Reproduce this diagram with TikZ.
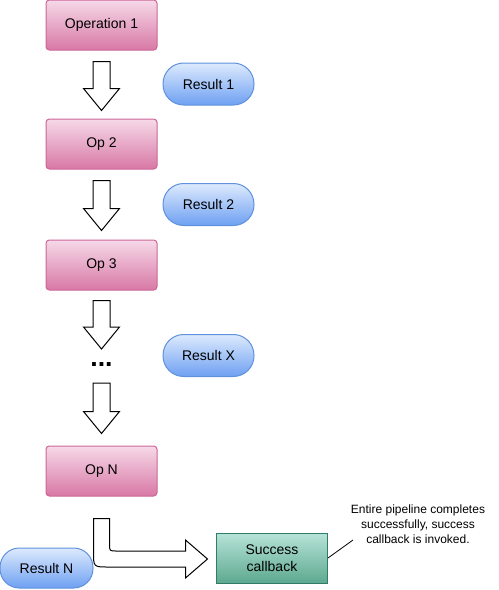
\documentclass[tikz,border=0pt]{standalone}
\usepackage{fontspec}
\setmainfont{Liberation Sans}
\usetikzlibrary{positioning, calc}

\definecolor{pinktop}{HTML}{F6D9E8}
\definecolor{pinkbot}{HTML}{D878A5}
\definecolor{pinkline}{HTML}{CC6699}
\definecolor{bluetop}{HTML}{DDEAFD}
\definecolor{bluebot}{HTML}{6EA0F2}
\definecolor{blueline}{HTML}{5F91DD}
\definecolor{tealtop}{HTML}{B7E3D8}
\definecolor{tealbot}{HTML}{5DA98F}
\definecolor{tealline}{HTML}{2F7D69}

\begin{document}
\begin{tikzpicture}[
x=0.75pt, y=-0.75pt, line width=0.75pt, font=\fontsize{10.5pt}{12.5pt}\selectfont,
    operation/.style={rectangle, draw=pinkline, top color=pinktop, bottom color=pinkbot, minimum width=83.25pt, minimum height=37.5pt, rounded corners=2.5pt, align=center},
    result/.style={rectangle, draw=blueline, top color=bluetop, bottom color=bluebot, minimum width=68.25pt, minimum height=31.5pt, rounded corners=15.5pt},
    callback/.style={rectangle, draw=tealline, top color=tealtop, bottom color=tealbot, minimum width=83.25pt, minimum height=37.5pt, align=center},
    note/.style={align=center, font=\fontsize{9pt}{11.25pt}\selectfont},
    blockdown/.style={draw, fill=white, to path={($(\tikztostart)+(-8.5,0)$) -- ($(\tikztotarget)+(-8.5,-22)$) -- ($(\tikztotarget)+(-18,-22)$) -- (\tikztotarget) -- ($(\tikztotarget)+(18,-22)$) -- ($(\tikztotarget)+(8.5,-22)$) -- ($(\tikztostart)+(8.5,0)$) -- cycle}},
    line/.style={draw}
]
    \useasboundingbox (0,0) rectangle (499,590);

    % Operations
    \node[operation] (op1) at (101.5,25) {Operation 1};
    \node[operation] (op2) at (101.5,144) {Op 2};
    \node[operation] (op3) at (101.5,265) {Op 3};
    \node[anchor=base, font=\bfseries\fontsize{20pt}{20pt}\selectfont] (dots) at (101.5,366) {...};
    \node[operation] (opN) at (101.5,471) {Op N};
    \node[callback] (succ) at (272,558) {Success\\callback};

    % Results
    \node[result] (res1) at (208.5,84) {Result 1};
    \node[result] (res2) at (208.5,204.5) {Result 2};
    \node[result] (resX) at (208.5,355.5) {Result X};
    \node[result, minimum width=69.75pt, minimum height=30pt, rounded corners=14.5pt] (resN) at (46.5,568) {Result N};

    % Note
    \node[note] (note) at (418,524) {Entire pipeline completes\\successfully, success\\callback is invoked.};

    % Arrow ends
    \coordinate (a1s) at ($(op1.south)+(0,11)$);
    \coordinate (a1e) at ($(op2.north)+(0,-8)$);
    \coordinate (a2s) at ($(op2.south)+(0,11)$);
    \coordinate (a2e) at ($(op3.north)+(0,-9)$);
    \coordinate (a3s) at ($(op3.south)+(0,10)$);
    \coordinate (a3e) at (101.5,349);
    \coordinate (a4s) at (101.5,383);
    \coordinate (a4e) at ($(opN.north)+(0,-12)$);
    \coordinate (b1) at ($(opN.south)+(0,22)$);
    \coordinate (b2) at ($(succ.west)+(-8.5,1)$);
    \coordinate (tail) at (353,540);

    % Block arrows
    \draw[blockdown] (a1s) to (a1e);
    \draw[blockdown] (a2s) to (a2e);
    \draw[blockdown] (a3s) to (a3e);
    \draw[blockdown] (a4s) to (a4e);

    % Bent arrow to callback
    \draw[fill=white] ($(b1)+(-8,0)$) -- ($(b1 |- b2)+(-8,-7)$) .. controls ($(b1 |- b2)+(-8,8)$) .. ($(b1 |- b2)+(7,8)$)
        -- ($(b2)+(-22,8)$) -- ($(b2)+(-22,19)$) -- (b2) -- ($(b2)+(-22,-19)$) -- ($(b2)+(-22,-8)$)
        -- ($(b1 |- b2)+(15,-8)$) .. controls ($(b1 |- b2)+(8,-8)$) .. ($(b1 |- b2)+(8,-15)$) -- ($(b1)+(8,0)$) -- cycle;

    % Note line
    \draw[line, line width=0.6pt] (succ.east) -- (tail);

\end{tikzpicture}
\end{document}
